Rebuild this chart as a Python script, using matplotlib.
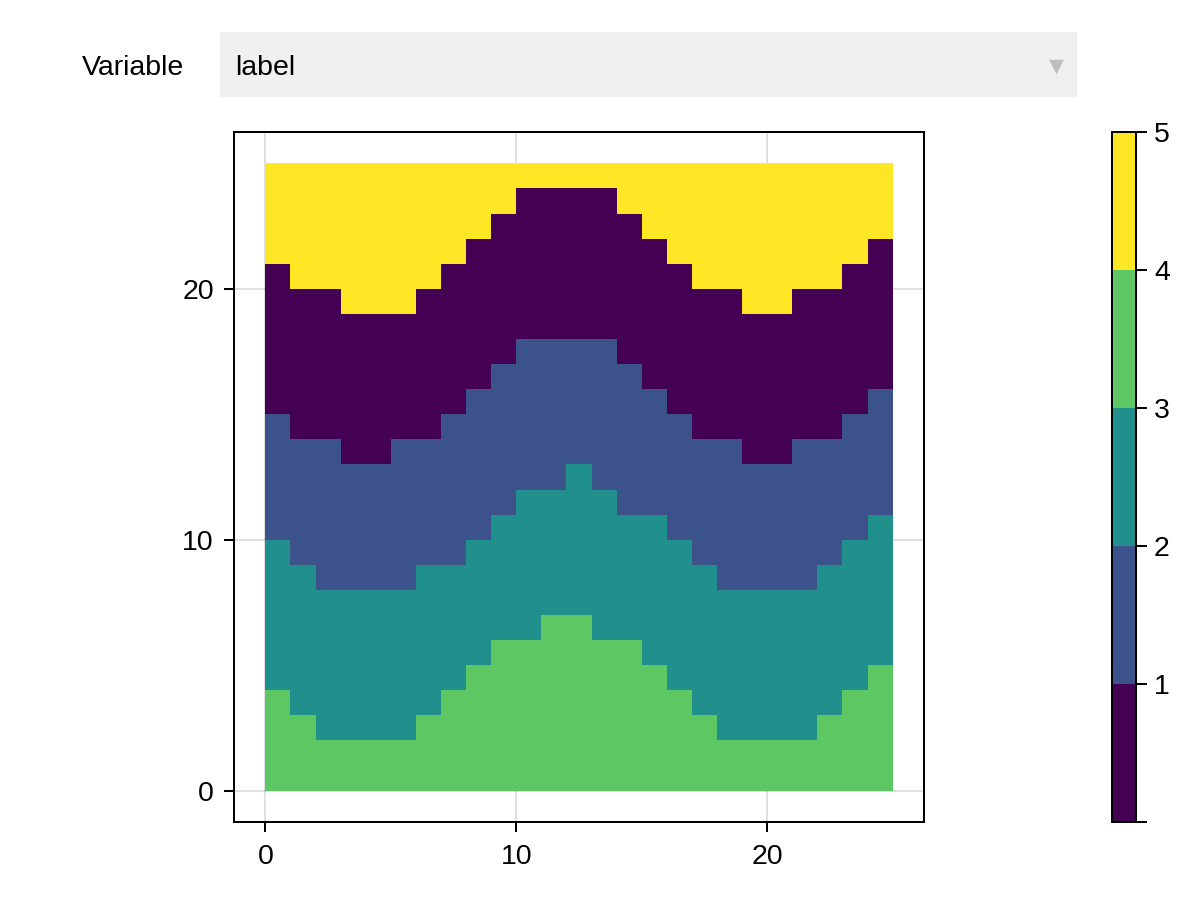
import numpy as np
import matplotlib
matplotlib.use('Agg')
import matplotlib.pyplot as plt
from matplotlib.colors import ListedColormap, BoundaryNorm
from matplotlib.patches import Rectangle

plt.rcParams['font.family'] = ['Liberation Sans', 'DejaVu Sans']

# top edge of each band, one value per column
green_top = [4, 3, 2, 2, 2, 2, 3, 4, 5, 6, 6, 7, 7, 6, 6, 5, 4, 3, 2, 2, 2, 2, 3, 4, 5]
teal_top = [10, 9, 8, 8, 8, 8, 9, 9, 10, 11, 12, 12, 13, 12, 11, 11, 10, 9, 8, 8, 8, 8, 9, 10, 11]
blue_top = [15, 14, 14, 13, 13, 14, 14, 15, 16, 17, 18, 18, 18, 18, 17, 16, 15, 14, 14, 13, 13, 14, 14, 15, 16]
purple_top = [21, 20, 20, 19, 19, 19, 20, 21, 22, 23, 24, 24, 24, 24, 23, 22, 21, 20, 20, 19, 19, 20, 20, 21, 22]

band_colors = ['#440154', '#3b528b', '#21908c', '#5dc863', '#fde725']
cbar_levels = [0, 1, 2, 3, 4, 5]
cbar_labels = ['', '1', '2', '3', '4', '5']
ticks_main = [0, 10, 20]

W, H = 1200, 900
FS = 20.5
LW = 1.44


def box(x0, y0, x1, y1):
    # pixel box (y from the top) to figure fractions
    return [x0 / W, 1 - y1 / H, (x1 - x0) / W, (y1 - y0) / H]


# build the label grid: 3.5 green, 2.5 teal, 1.5 blue, 0.5 purple, 4.5 yellow
n = len(green_top)
grid = np.full((n, n), 4.5)
for col in range(n):
    grid[:green_top[col], col] = 3.5
    grid[green_top[col]:teal_top[col], col] = 2.5
    grid[teal_top[col]:blue_top[col], col] = 1.5
    grid[blue_top[col]:purple_top[col], col] = 0.5

cmap = ListedColormap(band_colors)
norm = BoundaryNorm(cbar_levels, cmap.N)

fig = plt.figure(figsize=(W / 100, H / 100), dpi=100, facecolor='white')

# dropdown row
fig.patches.append(Rectangle((220 / W, 1 - 97 / H), 857 / W, 65 / H, transform=fig.transFigure,
                             facecolor='#f0f0f0', edgecolor='none', figure=fig))
fig.text(82 / W, 1 - 65 / H, 'Variable', fontsize=FS, color='black', ha='left', va='center_baseline')
fig.text(235.5 / W, 1 - 65 / H, 'label', fontsize=FS, color='black', ha='left', va='center_baseline')
fig.text(1056 / W, 1 - 66 / H, '▼', fontsize=14, color='#bfbfbf', ha='center', va='center',
         family=['DejaVu Sans'])

# main heatmap
ax = fig.add_axes(box(234, 132, 924, 822))
edges = np.arange(n + 1)
ax.pcolormesh(edges, edges, grid, cmap=cmap, norm=norm, linewidth=0, zorder=2)
ax.set_xlim(-1.25, 26.25)
ax.set_ylim(-1.25, 26.25)
ax.set_xticks(ticks_main)
ax.set_yticks(ticks_main)
ax.grid(True, color='black', alpha=0.12, linewidth=LW, zorder=1)
ax.set_axisbelow(True)
ax.tick_params(length=7.2, width=LW, labelsize=FS)
ax.tick_params(axis='x', pad=8.6)
ax.tick_params(axis='y', pad=7.2)
for sp in ax.spines.values():
    sp.set_linewidth(LW)

# colorbar
cax = fig.add_axes(box(1112, 132, 1136, 822))
cax.pcolormesh([0, 1], cbar_levels, np.array(cbar_levels[:-1]).reshape(-1, 1) + 0.5, cmap=cmap, norm=norm)
cax.set_xlim(0, 1)
cax.set_ylim(cbar_levels[0], cbar_levels[-1])
cax.set_xticks([])
cax.yaxis.tick_right()
cax.set_yticks(cbar_levels)
cax.set_yticklabels(cbar_labels)
cax.tick_params(length=8, width=LW, labelsize=FS, pad=5)
for sp in cax.spines.values():
    sp.set_linewidth(LW)

fig.savefig('out.png', dpi=100)
